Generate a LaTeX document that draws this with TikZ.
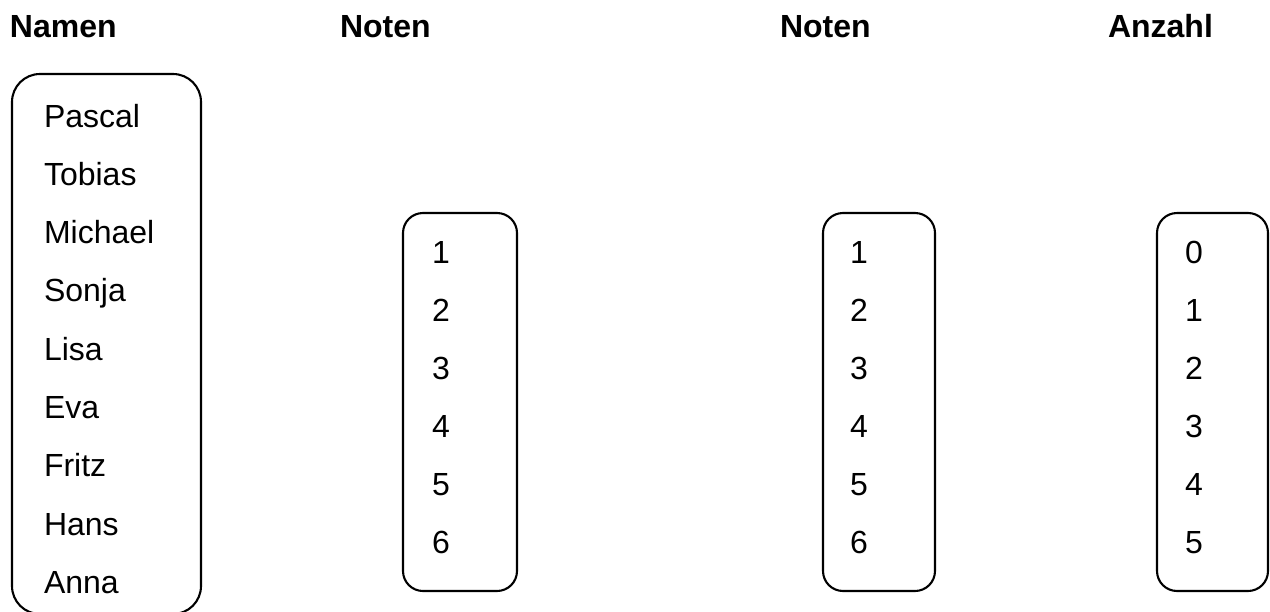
\documentclass[tikz,border=0pt]{standalone}
\usepackage{fontspec}
\setmainfont{Liberation Sans}
\begin{document}
\begin{tikzpicture}[x=0.5pt,y=-0.5pt,
  every node/.style={inner sep=0pt,outer sep=0pt},
  header/.style={anchor=base west,font=\fontsize{16}{19}\selectfont\bfseries},
  entry/.style={anchor=base west,font=\fontsize{16}{19}\selectfont},
  listbox/.style={draw,line width=1.05pt,rounded corners=#1},
  listbox/.default=10pt]
\clip (0,0) rectangle (1270,611);
\fill[white] (0,0) rectangle (1270,611);

% column headings
\node[header] (hNamen)  at (10,37)   {Namen};
\node[header] (hNoten)  at (340,37)  {Noten};
\node[header] (hNotenB) at (780,37)  {Noten};
\node[header] (hAnzahl) at (1108,37) {Anzahl};

% list frames
\node[listbox=14pt, minimum width=189*0.5pt, minimum height=540*0.5pt] (namen) at (106.5,344) {};
\node[listbox, minimum width=114*0.5pt, minimum height=378*0.5pt] (noten)  at (460,402) {};
\node[listbox, minimum width=112*0.5pt, minimum height=378*0.5pt] (notenB) at (879,402) {};
\node[listbox, minimum width=111*0.5pt, minimum height=378*0.5pt] (anzahl) at (1212.5,402) {};

% names
\foreach \name [count=\i from 0] in {Pascal,Tobias,Michael,Sonja,Lisa,Eva,Fritz,Hans,Anna}
  \node[entry] (n\i) at (44,127+58.3*\i) {\name};

% grades and counts
\foreach \v [count=\i from 0] in {1,...,6} {
  \node[entry] (g\i) at (432,263+58*\i) {\v};
  \node[entry] (k\i) at (850,263+58*\i) {\v};
}
\foreach \v [count=\i from 0] in {0,...,5}
  \node[entry] (c\i) at (1185,263+58*\i) {\v};
\end{tikzpicture}
\end{document}
